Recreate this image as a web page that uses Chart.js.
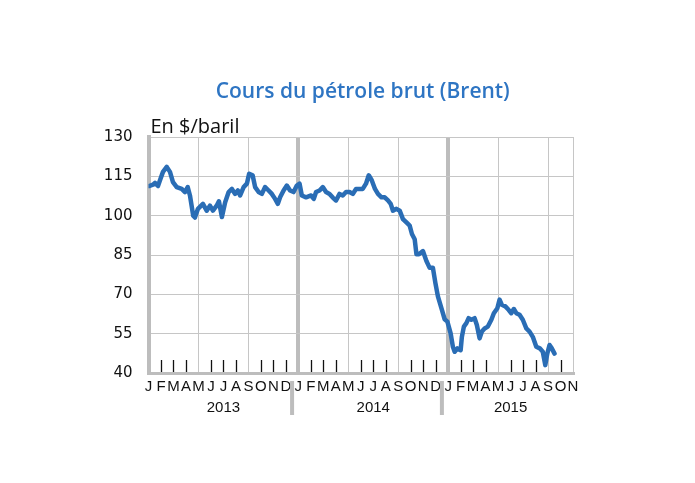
<!DOCTYPE html>
<html>
<head>
<meta charset="utf-8">
<script src="https://cdn.jsdelivr.net/npm/chart.js@4/dist/chart.umd.min.js"></script>
<style>
  html, body { margin: 0; padding: 0; background: #ffffff; }
</style>
</head>
<body>
<canvas id="brentChart" width="695" height="483"></canvas>
<script>
// position of each reading, in months since 1 Jan 2013
var monthPos = [
  0.04, 0.36, 0.52, 0.76, 0.92, 1.16, 1.46, 1.72, 1.96, 2.26,
  2.66, 2.92, 3.14, 3.32, 3.58, 3.72, 3.96, 4.36, 4.66, 4.92,
  5.16, 5.46, 5.64, 5.88, 6.14, 6.42, 6.68, 6.94, 7.16, 7.34,
  7.62, 7.88, 8.06, 8.34, 8.54, 8.82, 9.08, 9.34, 9.62, 9.88,
  10.14, 10.36, 10.54, 10.82, 11.08, 11.34, 11.62, 11.88,
  12.1, 12.28, 12.62, 13.02, 13.24, 13.42, 13.7, 13.96, 14.22, 14.5,
  14.76, 15.02, 15.3, 15.56, 15.82, 16.1, 16.36, 16.62, 16.9, 17.16,
  17.42, 17.64, 17.88, 18.14, 18.38, 18.66, 18.92, 19.18, 19.4, 19.58,
  19.86, 20.12, 20.38, 20.66, 20.92, 21.1, 21.32, 21.46, 21.66, 21.98,
  22.26, 22.52, 22.78, 22.98, 23.18, 23.46, 23.72, 23.94,
  24.2, 24.38, 24.52, 24.74, 25.0, 25.1, 25.26, 25.46, 25.64, 25.86,
  26.12, 26.3, 26.52, 26.7, 26.92, 27.18, 27.46, 27.66, 27.94, 28.12,
  28.3, 28.58, 28.84, 29.06, 29.26, 29.46, 29.72, 29.98, 30.26, 30.52,
  30.78, 31.06, 31.34, 31.58, 31.78, 31.94, 32.12, 32.3, 32.52
];

// Brent price, $/barrel
var brent = [
  111.3, 111.8, 112.5, 111.3, 113.5, 116.7, 118.6, 116.7, 112.8, 110.9,
  110.2, 109, 110.9, 107.7, 100, 99.3, 102.6, 104.5, 101.9, 103.8,
  101.9, 103.8, 105.5, 99.5, 105.1, 109, 110.2, 108.3, 109.6, 107.7,
  110.9, 112.2, 116, 115.4, 110.9, 109, 108.3, 110.9, 109.6, 108.3,
  106.4, 104.5, 107, 109.6, 111.5, 109.6, 109, 111.5,
  112.2, 107.7, 107, 107.7, 106.4, 109, 109.6, 110.9, 109, 108.3,
  106.9, 105.8, 108.3, 107.7, 109, 109, 108.3, 110.2, 110.2, 110.2,
  112.2, 115.4, 113.5, 110.2, 108.3, 107, 107, 105.8, 104.5, 101.9,
  102.6, 101.9, 98.7, 97.4, 96.2, 93, 91, 85.3, 85.3, 86.5,
  82.7, 80.1, 80.1, 74.3, 69.2, 64.7, 60.5, 59.6,
  55.1, 50, 48.1, 49.4, 48.7, 53.8, 57.7, 59, 60.9, 60.3,
  60.9, 58.3, 53.2, 55.8, 57, 57.7, 60.3, 62.8, 64.7, 68,
  66, 65.4, 64.1, 62.8, 64.4, 62.8, 62.2, 60.3, 57, 55.8,
  53.8, 50, 49.4, 48.1, 43, 47.4, 50.7, 49.4, 47.4
];

var monthLetters = ["J", "F", "M", "A", "M", "J", "J", "A", "S", "O", "N", "D"];
var years = ["2013", "2014", "2015"];
var yTicks = [40, 55, 70, 85, 100, 115, 130];
var lastMonth = 34; // axis ends on 1 Nov 2015

var titleText = "Cours du pétrole brut (Brent)";
var unitText = "En $/baril";

var gridGrey = "#c6c6c6";
var thickGrey = "#bdbdbd";

// year labels sit in the middle of the visible part of each year
var yearPos = years.map(function (y, i) {
  var start = i * 12;
  return (start + Math.min(start + 12, lastMonth)) / 2;
});

var points = monthPos.map(function (m, i) {
  return { x: m, y: brent[i] };
});

var decor = {
  id: "decor",
  beforeDatasetsDraw: function (chart) {
    var ctx = chart.ctx;
    var xs = chart.scales.x;
    var ys = chart.scales.y;
    var yr = chart.scales.yr;
    var bottom = ys.getPixelForValue(yTicks[0]);
    ctx.save();
    // small month ticks pointing up from the axis
    ctx.strokeStyle = "#111111";
    ctx.lineWidth = 1.3;
    for (var m = 1; m < lastMonth; m++) {
      if (m % 4 === 0) continue;
      var px = Math.round(xs.getPixelForValue(m)) + 0.5;
      ctx.beginPath();
      ctx.moveTo(px, bottom - 1);
      ctx.lineTo(px, bottom - 13);
      ctx.stroke();
    }
    // year separators below the axis
    ctx.strokeStyle = thickGrey;
    ctx.lineWidth = 4;
    for (var k = 1; k < years.length; k++) {
      var sx = xs.getPixelForValue(k * 12 - 0.5);
      ctx.beginPath();
      ctx.moveTo(sx, bottom + 8);
      ctx.lineTo(sx, yr.bottom - 6);
      ctx.stroke();
    }
    ctx.restore();
  },
  afterDraw: function (chart) {
    var ctx = chart.ctx;
    var area = chart.chartArea;
    ctx.save();
    ctx.textBaseline = "alphabetic";
    ctx.fillStyle = "#2e75c3";
    ctx.font = "600 21px 'Open Sans'";
    ctx.textAlign = "center";
    ctx.fillText(titleText, (area.left + area.right) / 2 + 2, area.top - 39);
    ctx.fillStyle = "#111111";
    ctx.font = "20px 'Open Sans'";
    ctx.textAlign = "left";
    ctx.fillText(unitText, area.left + 2, area.top - 4);
    ctx.restore();
  }
};

new Chart(document.getElementById("brentChart"), {
  type: "line",
  data: {
    datasets: [
      {
        label: "Brent",
        data: points,
        borderColor: "#2a6db5",
        borderWidth: 4.5,
        pointRadius: 0,
        tension: 0,
        borderJoinStyle: "round",
        borderCapStyle: "round",
      },
    ],
  },
  options: {
    responsive: false,
    animation: false,
    devicePixelRatio: 1,
    layout: {
      padding: { left: 0, right: 122, top: 137, bottom: 62 },
    },
    plugins: {
      legend: { display: false },
      title: { display: false },
      tooltip: { enabled: false },
    },
    scales: {
      x: {
        type: "linear",
        position: "bottom",
        weight: 0,
        min: 0,
        max: lastMonth,
        afterFit: function (s) {
          s.height = 24;
        },
        border: { color: thickGrey, width: 3 },
        grid: {
          drawTicks: false,
          color: function (c) {
            if (!c.tick) return "rgba(0,0,0,0)";
            var v = c.tick.value;
            return v % 12 === 0 ? thickGrey : (v % 4 === 0 || v === lastMonth ? gridGrey : "rgba(0,0,0,0)");
          },
          lineWidth: function (c) {
            return c.tick && c.tick.value % 12 === 0 ? 4 : 1;
          },
        },
        ticks: {
          stepSize: 1,
          autoSkip: false,
          maxRotation: 0,
          padding: 5,
          color: "#111111",
          font: { family: "'Liberation Sans'", size: 15 },
          callback: function (v) {
            return monthLetters[Math.round(v) % 12];
          },
        },
      },
      yr: {
        type: "linear",
        position: "bottom",
        weight: 1,
        min: 0,
        max: lastMonth,
        afterBuildTicks: function (s) {
          s.ticks = yearPos.map(function (p) {
            return { value: p };
          });
        },
        afterFit: function (s) {
          s.height = 24;
        },
        border: { display: false },
        grid: { display: false, drawTicks: false },
        ticks: {
          autoSkip: false,
          maxRotation: 0,
          padding: 2,
          color: "#111111",
          font: { family: "'Liberation Sans'", size: 15 },
          callback: function (v, i) {
            return years[i];
          },
        },
      },
      y: {
        min: yTicks[0],
        max: yTicks[yTicks.length - 1],
        afterBuildTicks: function (s) {
          s.ticks = yTicks.map(function (v) {
            return { value: v };
          });
        },
        afterFit: function (s) {
          s.width = 148.5;
        },
        border: { color: thickGrey, width: 4 },
        grid: { color: gridGrey, lineWidth: 1, drawTicks: false },
        ticks: {
          padding: 16,
          color: "#111111",
          font: { family: "'DejaVu Sans'", size: 15 },
        },
      },
    },
  },
  plugins: [decor],
});
</script>
</body>
</html>
